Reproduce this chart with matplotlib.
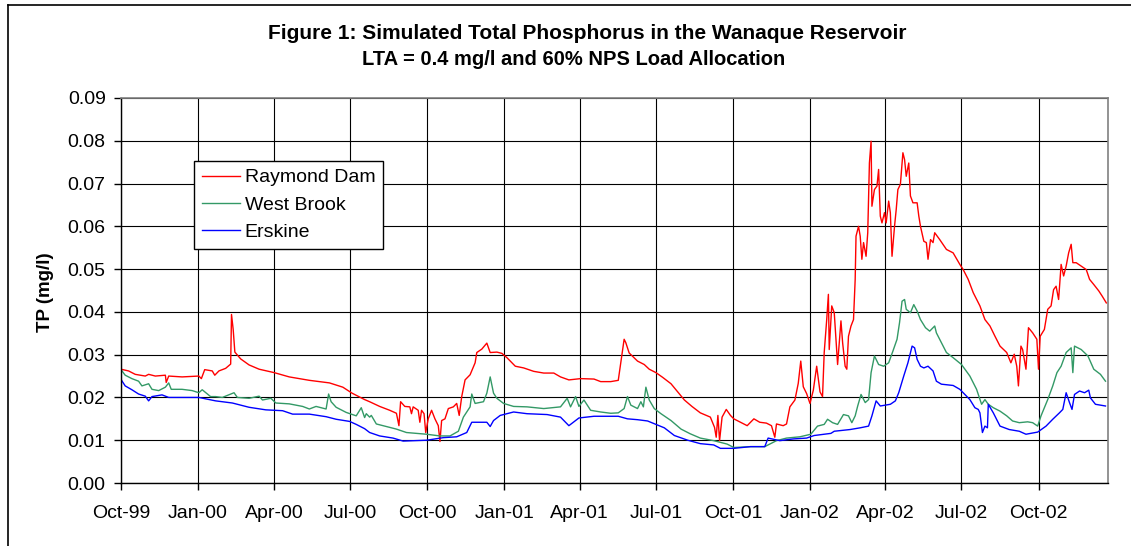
import numpy as np
import matplotlib
matplotlib.use('Agg')
import matplotlib.pyplot as plt
import matplotlib.dates as mdates
from matplotlib.ticker import FormatStrFormatter, MultipleLocator
from matplotlib.lines import Line2D

plt.rcParams['font.family'] = ['Liberation Sans', 'DejaVu Sans']

start = np.datetime64('1999-10-01')
end_day = 1179

# days after 1 Oct 1999, TP in mg/l
raymond_days = [0, 9, 17, 29, 33, 41, 53, 54, 57, 73, 93, 96, 100, 109, 112, 117, 125, 131, 132, 134,
                136, 143, 153, 165, 183, 201, 225, 249, 265, 276, 291, 297, 309, 321, 329, 332, 334, 339,
                345, 347, 349, 355, 357, 359, 362, 364, 367, 371, 375, 379, 381, 383, 387, 391, 397, 401,
                404, 407, 411, 417, 423, 425, 431, 437, 441, 449, 455, 461, 471, 481, 493, 505, 517, 525,
                535, 549, 565, 573, 585, 594, 597, 601, 603, 607, 617, 625, 631, 639, 647, 657, 665, 673,
                682, 692, 704, 709, 711, 713, 715, 718, 723, 728, 732, 740, 748, 756, 763, 771, 777, 781,
                783, 791, 795, 799, 805, 809, 812, 815, 819, 823, 827, 831, 835, 838, 840, 843, 845, 846,
                849, 852, 854, 856, 858, 860, 862, 865, 867, 869, 872, 875, 877, 878, 881, 883, 885, 887,
                890, 892, 894, 896, 897, 900, 903, 905, 907, 909, 912, 914, 917, 919, 921, 924, 926, 928,
                931, 934, 936, 938, 941, 943, 946, 951, 953, 955, 959, 962, 964, 967, 970, 972, 978, 986,
                994, 1002, 1006, 1012, 1018, 1026, 1032, 1038, 1044, 1050, 1058, 1063, 1067, 1070, 1072,
                1075, 1077, 1081, 1084, 1089, 1094, 1096, 1098, 1103, 1107, 1111, 1114, 1117, 1120, 1123,
                1126, 1129, 1132, 1135, 1137, 1141, 1147, 1153, 1157, 1162, 1168, 1172, 1177]
raymond_tp = [.0266, .0262, .0254, .0250, .0254, .0250, .0252, .0235, .0250, .0248, .0250, .0244, .0265,
              .0262, .0252, .0262, .0268, .0278, .0394, .0359, .0306, .0290, .0276, .0266, .0258, .0248,
              .0240, .0234, .0224, .0210, .0195, .0190, .0179, .0170, .0163, .0134, .0190, .0179, .0178,
              .0162, .0178, .0170, .0142, .0170, .0162, .0118, .0150, .0170, .0150, .0134, .0097, .0146,
              .0150, .0174, .0178, .0186, .0158, .0202, .0241, .0253, .0281, .0305, .0313, .0327, .0305,
              .0306, .0303, .0293, .0273, .0269, .0261, .0257, .0257, .0248, .0241, .0244, .0243, .0237,
              .0237, .0240, .0281, .0336, .0328, .0304, .0285, .0277, .0266, .0258, .0247, .0232, .0213,
              .0194, .0179, .0164, .0154, .0130, .0107, .0158, .0099, .0154, .0172, .0158, .0150, .0142,
              .0134, .0150, .0142, .0140, .0134, .0107, .0138, .0134, .0138, .0178, .0194, .0233, .0285,
              .0225, .0209, .0186, .0217, .0273, .0213, .0202, .0305, .0382, .0441, .0312, .0414, .0398,
              .0336, .0277, .0328, .0379, .0328, .0273, .0266, .0343, .0367, .0382, .0476, .0577, .0600,
              .0577, .0523, .0562, .0530, .0585, .0748, .0799, .0647, .0686, .0694, .0733, .0624, .0608,
              .0632, .0608, .0659, .0632, .0530, .0600, .0639, .0686, .0698, .0772, .0756, .0717, .0748,
              .0671, .0655, .0655, .0624, .0600, .0565, .0562, .0523, .0569, .0562, .0585, .0569, .0546,
              .0538, .0511, .0499, .0476, .0445, .0414, .0382, .0367, .0343, .0320, .0305, .0281, .0301,
              .0273, .0227, .0320, .0312, .0266, .0363, .0351, .0336, .0266, .0343, .0359, .0406, .0414,
              .0452, .0460, .0429, .0511, .0484, .0507, .0538, .0558, .0515, .0515, .0507, .0499, .0476,
              .0464, .0449, .0437, .0421]

westbrook_days = [0, 5, 13, 21, 25, 33, 37, 45, 53, 57, 60, 73, 85, 93, 97, 107, 113, 121, 135, 139, 153,
                  165, 169, 179, 185, 201, 217, 225, 233, 245, 248, 251, 257, 269, 281, 287, 291, 293, 297,
                  299, 305, 317, 329, 341, 353, 365, 381, 393, 403, 409, 417, 419, 423, 433, 437, 441, 445,
                  449, 457, 469, 485, 505, 525, 533, 537, 543, 547, 553, 561, 573, 585, 594, 601, 605, 609,
                  617, 621, 624, 627, 631, 637, 645, 657, 669, 680, 692, 708, 724, 732, 752, 769, 775, 783,
                  795, 811, 824, 832, 840, 844, 850, 856, 863, 869, 873, 877, 880, 884, 889, 893, 896, 900,
                  905, 911, 917, 922, 927, 930, 933, 936, 938, 943, 947, 951, 955, 961, 966, 972, 974, 980,
                  986, 994, 1004, 1014, 1022, 1028, 1032, 1036, 1042, 1050, 1058, 1065, 1073, 1083, 1089,
                  1095, 1099, 1107, 1113, 1118, 1123, 1129, 1135, 1137, 1139, 1147, 1155, 1162, 1170, 1176]
westbrook_tp = [.0265, .0252, .0244, .0238, .0227, .0232, .0219, .0216, .0224, .0234, .0219, .0219, .0216,
                .0211, .0218, .0202, .0202, .0200, .0211, .0200, .0198, .0203, .0194, .0198, .0187, .0185,
                .0179, .0173, .0179, .0173, .0208, .0190, .0177, .0165, .0157, .0176, .0153, .0162, .0154,
                .0158, .0138, .0132, .0126, .0118, .0116, .0114, .0110, .0110, .0121, .0154, .0178, .0208,
                .0186, .0190, .0210, .0248, .0210, .0198, .0186, .0179, .0178, .0174, .0178, .0198, .0178,
                .0202, .0179, .0194, .0170, .0166, .0163, .0164, .0174, .0202, .0182, .0174, .0190, .0178,
                .0224, .0194, .0174, .0162, .0146, .0126, .0115, .0105, .0099, .0091, .0083, .0085, .0085,
                .0091, .0099, .0105, .0108, .0114, .0133, .0137, .0149, .0141, .0137, .0160, .0157, .0141,
                .0157, .0180, .0207, .0188, .0195, .0258, .0297, .0277, .0273, .0281, .0308, .0336, .0375,
                .0425, .0429, .0406, .0398, .0417, .0402, .0382, .0363, .0355, .0367, .0351, .0328, .0305,
                .0293, .0277, .0250, .0219, .0184, .0195, .0184, .0176, .0168, .0157, .0145, .0141, .0143,
                .0141, .0133, .0157, .0195, .0227, .0258, .0273, .0305, .0316, .0258, .0320, .0312, .0297,
                .0266, .0254, .0238]

erskine_days = [0, 5, 13, 21, 29, 33, 37, 49, 57, 73, 93, 113, 133, 153, 173, 193, 205, 225, 245, 257, 273,
                281, 291, 297, 309, 325, 337, 365, 385, 401, 413, 419, 437, 441, 445, 453, 469, 485, 509,
                525, 535, 547, 565, 585, 594, 605, 617, 629, 639, 649, 661, 677, 692, 708, 716, 732, 752,
                769, 773, 787, 803, 819, 828, 848, 852, 871, 883, 893, 897, 902, 907, 919, 925, 929, 935,
                940, 945, 948, 951, 955, 959, 964, 970, 974, 980, 994, 1002, 1008, 1014, 1020, 1024, 1026,
                1029, 1032, 1035, 1036, 1042, 1050, 1061, 1073, 1081, 1095, 1105, 1113, 1121, 1125, 1129,
                1133, 1136, 1139, 1145, 1151, 1156, 1158, 1164, 1176]
erskine_tp = [.0242, .0227, .0218, .0208, .0203, .0192, .0202, .0206, .0200, .0200, .0200, .0192, .0187,
              .0177, .0171, .0169, .0161, .0161, .0155, .0149, .0144, .0137, .0127, .0118, .0110, .0105,
              .0098, .0100, .0106, .0108, .0118, .0142, .0142, .0132, .0146, .0158, .0166, .0162, .0160,
              .0154, .0134, .0152, .0156, .0156, .0156, .0150, .0148, .0145, .0137, .0129, .0111, .0100,
              .0092, .0089, .0081, .0081, .0085, .0085, .0105, .0099, .0103, .0105, .0111, .0116, .0121,
              .0125, .0129, .0133, .0157, .0192, .0180, .0184, .0192, .0211, .0250, .0281, .0320, .0316,
              .0289, .0273, .0269, .0273, .0262, .0238, .0231, .0228, .0219, .0207, .0195, .0176, .0172,
              .0164, .0118, .0133, .0129, .0184, .0164, .0133, .0125, .0121, .0114, .0119, .0133, .0149,
              .0164, .0172, .0211, .0188, .0172, .0207, .0215, .0211, .0217, .0199, .0184, .0180]

series_names = ['Raymond Dam', 'West Brook', 'Erskine']
series_colors = ['#FF0000', '#339966', '#0000FF']


def to_dates(days):
    return start + np.array(days).astype('timedelta64[D]')


fig = plt.figure(figsize=(11.31, 5.46), dpi=100)
ax = fig.add_axes([121 / 1131, 1 - 483 / 546, 987 / 1131, 385 / 546])

all_days = [raymond_days, westbrook_days, erskine_days]
all_tp = [raymond_tp, westbrook_tp, erskine_tp]
for d, v, name, c in zip(all_days, all_tp, series_names, series_colors):
    ax.plot(to_dates(d), v, color=c, lw=1.0, label=name)

ax.set_xlim(start, start + np.timedelta64(end_day, 'D'))
ax.set_ylim(0, 0.09)
ax.yaxis.set_major_locator(MultipleLocator(0.01))
ax.yaxis.set_major_formatter(FormatStrFormatter('%.2f'))
ax.xaxis.set_major_locator(mdates.MonthLocator(bymonth=[1, 4, 7, 10]))
ax.xaxis.set_major_formatter(mdates.DateFormatter('%b-%y'))

ax.grid(True, color='black', lw=0.8)
ax.set_axisbelow(True)
for s in ['top', 'right']:
    ax.spines[s].set_color('#808080')
    ax.spines[s].set_linewidth(1.2)
for s in ['left', 'bottom']:
    ax.spines[s].set_color('black')
    ax.spines[s].set_linewidth(1.0)
ax.tick_params(axis='both', direction='out', length=5, width=1, labelsize=14, colors='black')
ax.tick_params(axis='x', pad=11)
ax.tick_params(axis='y', pad=6)

fig.text(46 / 1131, 1 - 292 / 546, 'TP (mg/l)', rotation=90, ha='center', va='center',
         fontsize=13.5, fontweight='bold')
fig.text(587 / 1131, 1 - 39 / 546, 'Figure 1: Simulated Total Phosphorus in the Wanaque Reservoir',
         ha='center', va='baseline', fontsize=15, fontweight='bold')
fig.text(574 / 1131, 1 - 65 / 546, 'LTA = 0.4 mg/l and 60% NPS Load Allocation',
         ha='center', va='baseline', fontsize=14.5, fontweight='bold')

leg = ax.legend(loc='upper left', bbox_to_anchor=(194 / 1131, 1 - 161 / 546),
                bbox_transform=fig.transFigure, fontsize=14, frameon=True, fancybox=False,
                handlelength=1.95, handletextpad=0.25, labelspacing=0.5, borderpad=0.4,
                borderaxespad=0)
leg.get_frame().set_edgecolor('black')
leg.get_frame().set_linewidth(1.0)
leg.get_frame().set_alpha(1)

# outer chart border (left and top edges are visible)
fig.add_artist(Line2D([8 / 1131, 8 / 1131], [0, 1 - 5 / 546], color='black', lw=1.2,
                      transform=fig.transFigure))
fig.add_artist(Line2D([8 / 1131, 1], [1 - 5 / 546, 1 - 5 / 546], color='black', lw=1.2,
                      transform=fig.transFigure))

fig.savefig('out.png', dpi=100)
